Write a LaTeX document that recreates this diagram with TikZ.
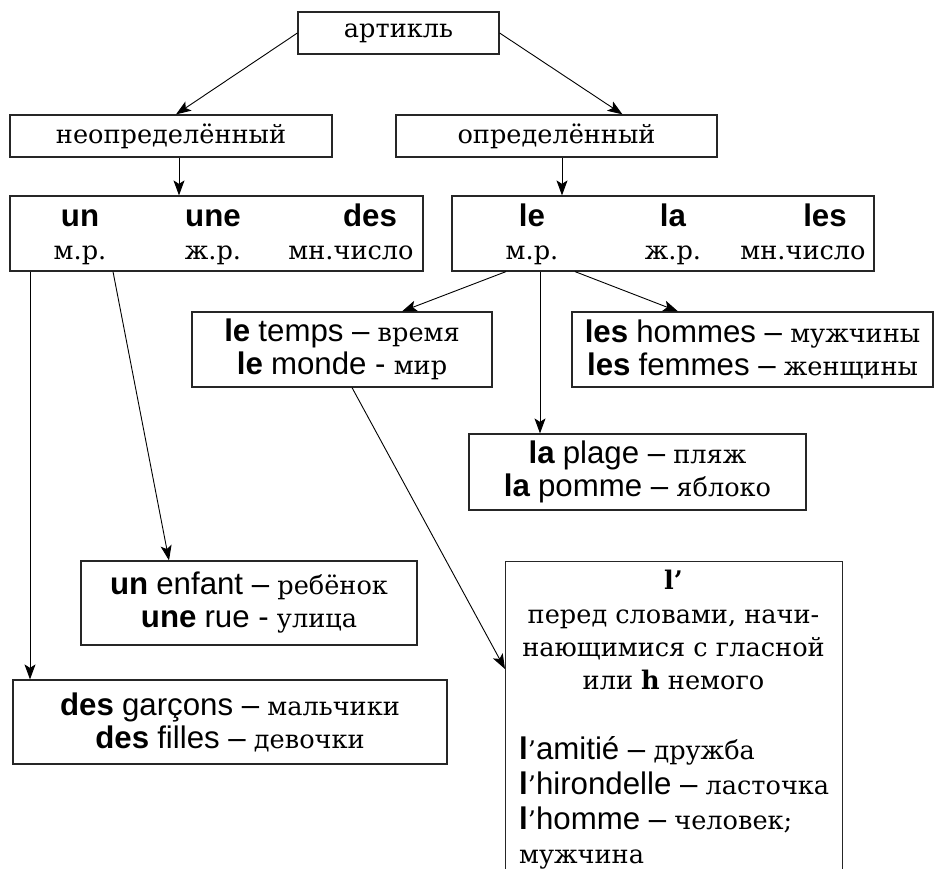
\documentclass[tikz,border=0pt]{standalone}
\usepackage{fontspec}
\setmainfont{DejaVu Serif}
\setsansfont[Scale=1.22]{Liberation Sans}
\usetikzlibrary{arrows.meta,calc}
\newcommand\arti[1]{{\sffamily\bfseries #1}}
\newcommand\frw[1]{{\sffamily #1}}
\begin{document}
\begin{tikzpicture}[x=1pt,y=-1pt,
  every node/.style={font=\fontsize{25.6}{33}\selectfont},
  box/.style={draw=black!85, line width=1.2pt, inner sep=0pt, align=center},
  txt/.style={inner sep=0pt},
  arr/.style={-{Stealth[length=15pt,width=11pt,inset=3.5pt]}, line width=0.9pt}]
\useasboundingbox (0,0) rectangle (934,869);
\clip (0,0) rectangle (934,869);

% boxes
\node[box, minimum width=201pt, minimum height=42pt] (art) at (398.5,33) {артикль};
\node[box, minimum width=322pt, minimum height=42pt] (indef) at (171,136) {неопределённый};
\node[box, minimum width=321pt, minimum height=42pt] (def) at (556.5,136) {определённый};
\node[box, minimum width=413pt, minimum height=75pt] (unbox) at (216.5,233.5) {};
\node[box, minimum width=422pt, minimum height=75pt] (lebox) at (663,233.5) {};

\node[txt, anchor=base] (un) at (80,226) {\arti{un}};
\node[txt, anchor=base] (une) at (213,226) {\arti{une}};
\node[txt, anchor=base] (des) at (370,226) {\arti{des}};
\node[txt, anchor=base] (mr1) at (80,259) {м.р.};
\node[txt, anchor=base] (zr1) at (213,259) {ж.р.};
\node[txt, anchor=base] (mn1) at (351,259) {мн.число};

\node[txt, anchor=base] (le) at (532,226) {\arti{le}};
\node[txt, anchor=base] (la) at (673,226) {\arti{la}};
\node[txt, anchor=base] (les) at (825,226) {\arti{les}};
\node[txt, anchor=base] (mr2) at (532,259) {м.р.};
\node[txt, anchor=base] (zr2) at (673,259) {ж.р.};
\node[txt, anchor=base] (mn2) at (803,259) {мн.число};

\node[box, minimum width=300pt, minimum height=75pt] (letemps) at (342,349.5)
  {\arti{le} \frw{temps –} время\\ \arti{le} \frw{monde -} мир};
\node[box, minimum width=361pt, minimum height=75pt] (leshommes) at (752.5,349.5)
  {\arti{les} \frw{hommes –} мужчины\\ \arti{les} \frw{femmes –} женщины};
\node[box, minimum width=337pt, minimum height=76pt] (laplage) at (637.5,472)
  {\arti{la} \frw{plage –} пляж\\ \arti{la} \frw{pomme –} яблоко};
\node[box, minimum width=336pt, minimum height=84pt] (unenfant) at (249,603)
  {\arti{un} \frw{enfant –} ребёнок\\ \arti{une} \frw{rue -} улица};
\node[box, minimum width=434pt, minimum height=84pt] (desgarcons) at (230,722)
  {\arti{des} \frw{garçons –} мальчики\\ \arti{des} \frw{filles –} девочки};

\node[box, minimum width=337pt, minimum height=340pt, anchor=north west] (lbox) at (505,561) {};
\node[txt, anchor=base] (l0) at (673.5,589) {\textbf{l’}};
\node[txt, anchor=base] (l1) at (673.5,623) {перед словами, начи-};
\node[txt, anchor=base] (l2) at (673.5,656) {нающимися с гласной};
\node[txt, anchor=base] (l3) at (673.5,689) {или \textbf{h} немого};
\node[txt, anchor=base west] (l4) at (519,759) {\arti{l}’\frw{amitié –} дружба};
\node[txt, anchor=base west] (l5) at (519,794) {\arti{l}’\frw{hirondelle –} ласточка};
\node[txt, anchor=base west] (l6) at (519,829) {\arti{l}’\frw{homme –} человек;};
\node[txt, anchor=base west] (l7) at (519,863) {мужчина};

% connectors
\draw[arr] (art.west) -- ([xshift=5pt]indef.north);
\draw[arr] (art.east) -- ([xshift=66pt]def.north);
\draw[arr] ([xshift=8pt]indef.south) -- ([xshift=8pt]indef.south |- unbox.north);
\draw[arr] ([xshift=5.5pt]def.south) -- ([xshift=5.5pt]def.south |- lebox.north);
\draw[arr] ([xshift=-157pt]lebox.south) -- ([xshift=60pt]letemps.north);
\draw[arr] ([xshift=-123pt]lebox.south) -- ([xshift=-123pt]lebox.south |- laplage.north);
\draw[arr] ([xshift=-88pt]lebox.south) -- ([xshift=-74.5pt]leshommes.north);
\draw[arr] ([xshift=-186.5pt]unbox.south) -- ([xshift=-186.5pt]unbox.south |- desgarcons.north);
\draw[arr] ([xshift=-103.5pt]unbox.south) -- ([xshift=-80pt]unenfant.north);
\draw[arr] ([xshift=10pt]letemps.south) -- ([yshift=-108pt]lbox.north west);
\end{tikzpicture}
\end{document}
